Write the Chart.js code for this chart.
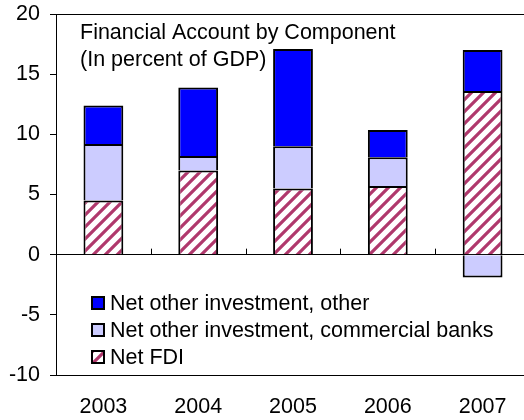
<!DOCTYPE html>
<html>
<head>
    <title>Financial Account by Component</title>
    <script src="https://cdn.jsdelivr.net/npm/chart.js"></script>
    <style>
        html, body { margin: 0; padding: 0; overflow: hidden; background: #fff; }
    </style>
</head>
<body>
    <canvas id="faChart" width="530" height="420"></canvas>

    <script>
        // Años y componentes (en porcentaje del PIB)
        var years = ['2003', '2004', '2005', '2006', '2007'];
        var netFDI = [4.5, 7.0, 5.5, 5.7, 13.6];
        var commercialBanks = [4.7, 1.2, 3.5, 2.4, -1.9];
        var otherInvestment = [3.2, 5.7, 8.1, 2.25, 3.4];
        var yTicks = [-10, -5, 0, 5, 10, 15, 20];
        var titleLines = ['Financial Account by Component', '(In percent of GDP)'];

        var FONT = '"Liberation Sans", Arial, sans-serif';
        var FONT_SIZE = 21.5;

        // Relleno rayado para la IED
        function makeHatch() {
            var s = 12;
            var c = document.createElement('canvas');
            c.width = s;
            c.height = s;
            var g = c.getContext('2d');
            g.fillStyle = '#ffffff';
            g.fillRect(0, 0, s, s);
            g.strokeStyle = '#b0386c';
            g.lineWidth = 3.2;
            g.beginPath();
            g.moveTo(-2, 2); g.lineTo(2, -2);
            g.moveTo(0, s); g.lineTo(s, 0);
            g.moveTo(s - 2, s + 2); g.lineTo(s + 2, s - 2);
            g.stroke();
            return document.createElement('canvas').getContext('2d').createPattern(c, 'repeat');
        }
        var hatch = makeHatch();

        // Marcas cortas sobre la línea de cero, entre categorías
        var zeroTicks = {
            id: 'zeroTicks',
            afterDatasetsDraw: function (chart) {
                var x = chart.scales.x, y = chart.scales.y, g = chart.ctx;
                var y0 = y.getPixelForValue(0);
                g.save();
                g.strokeStyle = '#000';
                g.lineWidth = 1;
                g.beginPath();
                for (var i = 0; i < years.length - 1; i++) {
                    var px = Math.round((x.getPixelForValue(i) + x.getPixelForValue(i + 1)) / 2) + 0.5;
                    g.moveTo(px, y0);
                    g.lineTo(px, y0 - 6);
                }
                g.stroke();
                g.restore();
            }
        };

        // Título y leyenda dentro del área del gráfico
        var innerText = {
            id: 'innerText',
            afterDraw: function (chart) {
                var g = chart.ctx, area = chart.chartArea;
                g.save();
                g.font = FONT_SIZE + 'px ' + FONT;
                g.fillStyle = '#000';
                g.textBaseline = 'middle';
                g.textAlign = 'left';
                titleLines.forEach(function (t, i) {
                    g.fillText(t, area.left + 24, area.top + 19 + i * 27);
                });

                var ds = chart.data.datasets.slice().reverse();
                ds.forEach(function (d, i) {
                    var cy = 303 + i * 27;
                    var bx = area.left + 35;
                    g.fillStyle = d.backgroundColor;
                    g.fillRect(bx, cy - 7, 14, 14);
                    g.strokeStyle = '#000';
                    g.lineWidth = 2;
                    g.strokeRect(bx + 1, cy - 6, 12, 12);
                    g.fillStyle = '#000';
                    g.fillText(d.label, bx + 19, cy + 1);
                });
                g.restore();
            }
        };

        var ctx = document.getElementById('faChart').getContext('2d');
        var chart = new Chart(ctx, {
            type: 'bar',
            data: {
                labels: years,
                datasets: [
                    {
                        label: 'Net FDI',
                        data: netFDI,
                        backgroundColor: hatch,
                        borderColor: '#000',
                        borderWidth: 2,
                        borderSkipped: 'start'
                    },
                    {
                        label: 'Net other investment, commercial banks',
                        data: commercialBanks,
                        backgroundColor: '#ccccff',
                        borderColor: '#000',
                        borderWidth: 2,
                        borderSkipped: 'start'
                    },
                    {
                        label: 'Net other investment, other',
                        data: otherInvestment,
                        backgroundColor: '#0000ff',
                        borderColor: '#000',
                        borderWidth: 2,
                        borderSkipped: 'start'
                    }
                ]
            },
            options: {
                responsive: false,
                animation: false,
                layout: { padding: { top: 14, left: 0, right: 0, bottom: 0 } },
                plugins: {
                    legend: { display: false },
                    tooltip: { enabled: false }
                },
                datasets: {
                    bar: { categoryPercentage: 1, barPercentage: 0.42 }
                },
                scales: {
                    x: {
                        stacked: true,
                        grid: { display: false },
                        border: { display: true, color: '#000', width: 1 },
                        ticks: {
                            color: '#000',
                            font: { family: FONT, size: FONT_SIZE },
                            padding: 11,
                            maxRotation: 0
                        },
                        afterFit: function (s) {
                            s.height = 45;
                            s.paddingLeft = 0;
                            s.paddingRight = 0;
                        }
                    },
                    y: {
                        stacked: true,
                        min: -10,
                        max: 20,
                        afterBuildTicks: function (s) {
                            s.ticks = yTicks.map(function (v) { return { value: v }; });
                        },
                        grid: {
                            color: function (c) {
                                return (c.tick && (c.tick.value === 0 || c.tick.value === 20)) ? '#000' : 'rgba(0,0,0,0)';
                            },
                            tickColor: '#000',
                            tickLength: 6,
                            lineWidth: 1
                        },
                        border: { display: true, color: '#000', width: 1 },
                        ticks: {
                            color: '#000',
                            font: { family: FONT, size: FONT_SIZE },
                            padding: 10
                        },
                        afterFit: function (s) {
                            s.width = 56;
                            s.paddingTop = 0;
                            s.paddingBottom = 0;
                        }
                    }
                }
            },
            plugins: [zeroTicks, innerText]
        });
    </script>
</body>
</html>
